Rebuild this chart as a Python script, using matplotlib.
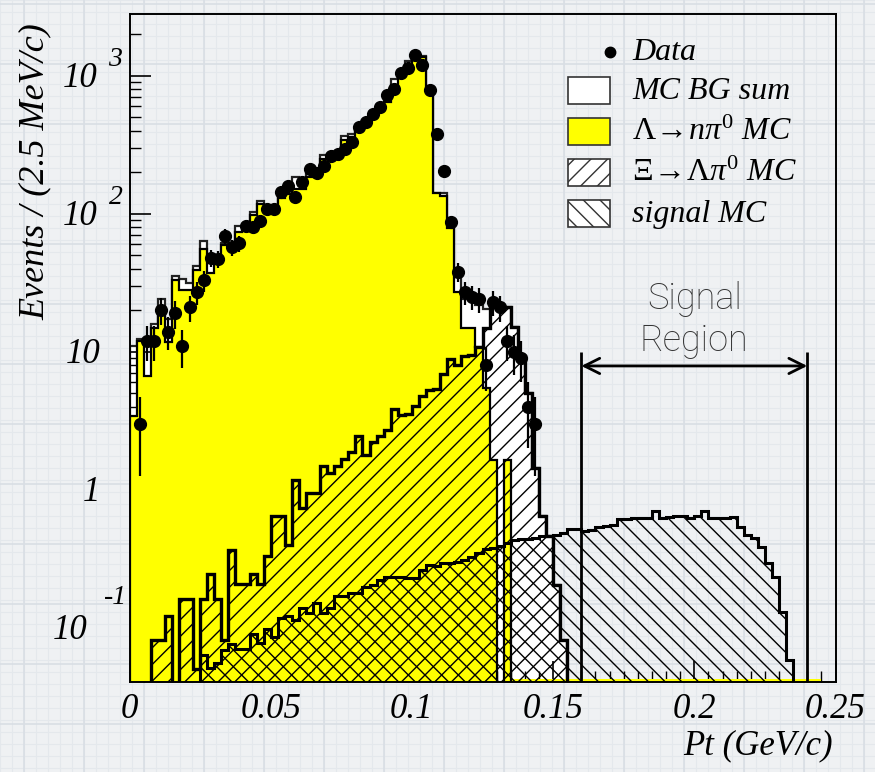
import numpy as np
import matplotlib.pyplot as plt
from matplotlib import transforms
from matplotlib.patches import Rectangle
from matplotlib.lines import Line2D
from matplotlib.ticker import FixedLocator, NullFormatter

plt.rcParams['font.family'] = ['Liberation Serif', 'DejaVu Serif']
plt.rcParams['mathtext.fontset'] = 'custom'
plt.rcParams['mathtext.rm'] = 'Liberation Serif'
plt.rcParams['mathtext.it'] = 'Liberation Serif:italic'
plt.rcParams['hatch.linewidth'] = 1.0

# 100 bins of 2.5 MeV/c from 0 to 0.25 GeV/c
edges = np.linspace(0, 0.25, 101)
centers = 0.5 * (edges[:-1] + edges[1:])

# data counts, bins 1..57
data_counts = [3, 12, 12, 20, 14, 19, 11, 21, 27, 33, 48, 47, 69, 57, 61, 81, 80, 89,
               108, 108, 144, 160, 132, 171, 211, 197, 223, 260, 271, 294, 331, 425,
               459, 531, 589, 720, 800, 1046, 1136, 1420, 1202, 792, 380, 203, 87, 38,
               27, 25, 24, 8, 23, 21, 12, 10, 9, 4, 3]
data_first_bin = 1

# MC BG sum, bins 0..61
mc_sum = [11, 12.4, 12.4, 16, 24, 17.3, 35.7, 33.8, 31.5, 41.5, 63.7, 49.7, 47.8, 61, 60,
          81, 81, 103, 123, 110, 110, 137, 150, 186, 175, 195, 195, 268, 262, 268, 363,
          380, 420, 470, 525, 590, 660, 946, 1046, 1270, 1380, 1380, 800, 141, 141, 88,
          35, 24, 24.5, 22, 20.5, 22.6, 21, 21, 15.2, 9.3, 5, 1.44, 0.65, 0.46, 0.205,
          0.082]

# Lambda -> n pi0 MC, bins 0..53
lam_mc = [3.4, 12, 6.7, 15, 19, 11.7, 33, 28, 28, 39, 56, 37, 45, 59, 57, 74, 76, 98,
          117, 105, 105, 130, 140, 150, 150, 185, 190, 250, 255, 260, 345, 360, 410, 460,
          515, 575, 645, 860, 1000, 1170, 1330, 1370, 790, 141, 135, 79, 27, 15, 15, 10.9,
          5.5, 1.65, 0, 1.65]
# tiny Lambda tail hugging the axis floor, bins 54..97
lam_tail = [0.0425] * 44
lam_tail_first_bin = 54

# Xi -> Lambda pi0 MC, bins 0..61
xi_mc = [0, 0, 0, 0.082, 0.082, 0.122, 0, 0.162, 0.162, 0.05, 0.162, 0.246, 0.162, 0.082,
         0.367, 0.207, 0.207, 0.246, 0.207, 0.333, 0.65, 0.65, 0.40, 1.18, 0.74, 0.95,
         0.95, 1.48, 1.33, 1.48, 1.67, 1.88, 2.46, 1.79, 2.24, 2.46, 2.72, 3.85, 3.49,
         3.55, 4.06, 4.8, 5.3, 5.4, 6.9, 8.8, 8.0, 9.25, 9.5, 10.9, 15, 21, 21, 21, 15.2,
         9.3, 5, 1.44, 0.65, 0.46, 0.205, 0.082]

# signal MC, bins 10..93
sig_mc = [0.0637, 0.051, 0.0555, 0.0693, 0.0766, 0.070, 0.070, 0.090, 0.078, 0.0977,
          0.0865, 0.1175, 0.122, 0.114, 0.139, 0.128, 0.151, 0.128, 0.14, 0.169, 0.169,
          0.178, 0.178, 0.199, 0.205, 0.223, 0.233, 0.233, 0.233, 0.23, 0.23, 0.263,
          0.286, 0.28, 0.294, 0.294, 0.30, 0.311, 0.329, 0.35, 0.37, 0.38, 0.39, 0.41,
          0.43, 0.44, 0.44, 0.45, 0.46, 0.46, 0.47, 0.49, 0.52, 0.52, 0.50, 0.51, 0.54,
          0.55, 0.557, 0.612, 0.612, 0.623, 0.623, 0.623, 0.708, 0.623, 0.635, 0.648,
          0.648, 0.623, 0.648, 0.697, 0.623, 0.623, 0.623, 0.635, 0.542, 0.47, 0.447,
          0.388, 0.294, 0.235, 0.131, 0.0586]
sig_first_bin = 10

signal_region = (0.16, 0.24)

W, H = 875, 772
FLOOR = 1e-4


def full(vals, start=0):
    out = np.zeros(100)
    out[start:start + len(vals)] = vals
    return np.where(out > 0, out, FLOOR)


def fx(px):
    return px / W


def fy(py):
    return 1 - py / H


fig = plt.figure(figsize=(W / 100, H / 100), dpi=100)
fig.patch.set_facecolor('#eff1f3')

# grid-paper backdrop
bg = fig.add_axes([0, 0, 1, 1], zorder=-10)
bg.set_xlim(0, W)
bg.set_ylim(H, 0)
bg.axis('off')
for g in np.arange(0, W, 12):
    bg.axvline(g, color='#e4e8ec', lw=0.8)
for g in np.arange(0, H, 12):
    bg.axhline(g, color='#e4e8ec', lw=0.8)
for g in np.arange(24, W, 60):
    bg.axvline(g, color='#d9dee4', lw=1.2)
for g in np.arange(4, H, 60):
    bg.axhline(g, color='#d9dee4', lw=1.2)

ax = fig.add_axes([fx(129.5), fy(681.5), fx(835.5) - fx(129.5), fy(14) - fy(681.5)])
ax.set_facecolor('none')
ax.set_yscale('log')
ax.set_xlim(0, 0.25)
ax.set_ylim(0.0409, 2800)

s_sum = full(mc_sum)
s_lam = full(lam_mc)
s_tail = full(lam_tail, lam_tail_first_bin)
s_xi = full(xi_mc)
s_sig = full(sig_mc, sig_first_bin)

ax.stairs(s_sum, edges, baseline=FLOOR, fill=True, facecolor='white', edgecolor='none', zorder=1)
ax.stairs(s_sum, edges, baseline=FLOOR, color='#222222', lw=1.6, zorder=1.1)
ax.stairs(s_lam, edges, baseline=FLOOR, fill=True, facecolor='#ffff00', edgecolor='none', zorder=2)
ax.stairs(s_tail, edges, baseline=FLOOR, fill=True, facecolor='#ffff00', edgecolor='none', zorder=2)
ax.stairs(s_lam, edges, baseline=FLOOR, color='black', lw=1.6, zorder=2.1)
ax.stairs(s_xi, edges, baseline=FLOOR, fill=True, facecolor='none', edgecolor='black',
          hatch='//', lw=0, zorder=3)
ax.stairs(s_xi, edges, baseline=FLOOR, color='black', lw=2.4, zorder=3.1)
ax.stairs(s_sig, edges, baseline=FLOOR, fill=True, facecolor='none', edgecolor='black',
          hatch='\\\\', lw=0, zorder=4)
ax.stairs(s_sig, edges, baseline=FLOOR, color='black', lw=2.2, zorder=4.1)

d = np.array(data_counts, dtype=float)
xd = centers[data_first_bin:data_first_bin + len(d)]
ax.errorbar(xd, d, yerr=np.sqrt(d), fmt='o', color='black', ms=8.5, elinewidth=1.6,
            capsize=0, zorder=6)

# signal region marker
lo, hi = signal_region
for xv in signal_region:
    ax.plot([xv, xv], [0.0409, 10], color='black', lw=2, zorder=7, solid_capstyle='butt')
ax.annotate('', xy=(lo, 7.9), xytext=(hi, 7.9),
            arrowprops=dict(arrowstyle='<->,head_length=1.1,head_width=0.55', lw=2,
                            color='black', shrinkA=0, shrinkB=0), zorder=7)
ax.text(0.5 * (lo + hi), 17, 'Signal\nRegion', ha='center', va='center',
        family=['Roboto', 'DejaVu Sans'], fontweight='light', fontsize=26,
        color='#333333', linespacing=1.2, zorder=7)

# axes and ticks
for sp in ax.spines.values():
    sp.set_linewidth(1.4)
    sp.set_zorder(8)
ax.set_xticks([0, 0.05, 0.1, 0.15, 0.2, 0.25])
ax.set_xticklabels(['0', '0.05', '0.1', '0.15', '0.2', '0.25'], fontstyle='italic', fontsize=25)
ax.xaxis.set_minor_locator(FixedLocator(np.arange(0, 0.2501, 0.005)))
ax.tick_params(axis='x', which='major', direction='in', length=15, width=1.2, pad=8,
               top=False)
ax.tick_params(axis='x', which='minor', direction='in', length=8, width=1.0, top=False)
ax.yaxis.set_major_locator(FixedLocator([0.1, 1, 10, 100, 1000]))
ax.yaxis.set_minor_locator(FixedLocator([m * 10.0 ** e for e in range(-2, 4) for m in range(2, 10)]))
ax.yaxis.set_major_formatter(NullFormatter())
ax.yaxis.set_minor_formatter(NullFormatter())
ax.tick_params(axis='y', which='major', direction='in', length=15, width=1.2, right=False)
ax.tick_params(axis='y', which='minor', direction='in', length=8, width=1.0, right=False)

ytr = ax.get_yaxis_transform()
lab_kw = dict(fontstyle='italic', fontsize=25, va='center')
for val, base, sup, bx, sx, sy in [(1000, '10', '3', -32, -21, 16),
                                   (100, '10', '2', -32, -21, 16),
                                   (10, '10', None, -29, 0, 0),
                                   (1, '1', None, -29, 0, 0),
                                   (0.1, '10', '-1', -42, -26, 30)]:
    t = transforms.offset_copy(ytr, fig=fig, x=bx * 0.72, y=-3 * 0.72, units='points')
    ax.text(0, val, base, transform=t, ha='right', **lab_kw)
    if sup:
        t2 = transforms.offset_copy(ytr, fig=fig, x=sx * 0.72, y=sy * 0.72, units='points')
        ax.text(0, val, sup, transform=t2, ha='left', fontstyle='italic', fontsize=20,
                va='center')

fig.text(fx(35), fy(172), 'Events / (2.5 MeV/c)', rotation=90, ha='center', va='center',
         fontstyle='italic', fontsize=26)
fig.text(fx(833), fy(746), 'Pt (GeV/c)', ha='right', va='center', fontstyle='italic',
         fontsize=25)

# legend
leg_x0, leg_w, leg_h = 568, 42, 27
fig.add_artist(Line2D([fx(610)], [fy(52)], marker='o', color='black', ms=7.5,
                      transform=fig.transFigure))
fig.text(fx(632), fy(53), 'Data', fontstyle='italic', fontsize=23, va='center')
entries = [
    (77, dict(facecolor='white'), 'MC BG sum'),
    (118, dict(facecolor='#ffff00'), r'$\Lambda\!\rightarrow\! n\pi^{0}$ MC'),
    (159, dict(facecolor='white', hatch='//'), r'$\Xi\!\rightarrow\!\Lambda\pi^{0}$ MC'),
    (200, dict(facecolor='white', hatch='\\\\'), 'signal MC'),
]
for ytop, style, label in entries:
    r = Rectangle((fx(leg_x0), fy(ytop + leg_h)), fx(leg_w), fy(0) - fy(leg_h),
                  transform=fig.transFigure, edgecolor='#333333', lw=1.2, **style)
    fig.add_artist(r)
    fig.text(fx(632), fy(ytop + leg_h / 2 + 1), label, fontstyle='italic', fontsize=23,
             va='center')

fig.savefig('out.png', dpi=100, facecolor=fig.get_facecolor())
